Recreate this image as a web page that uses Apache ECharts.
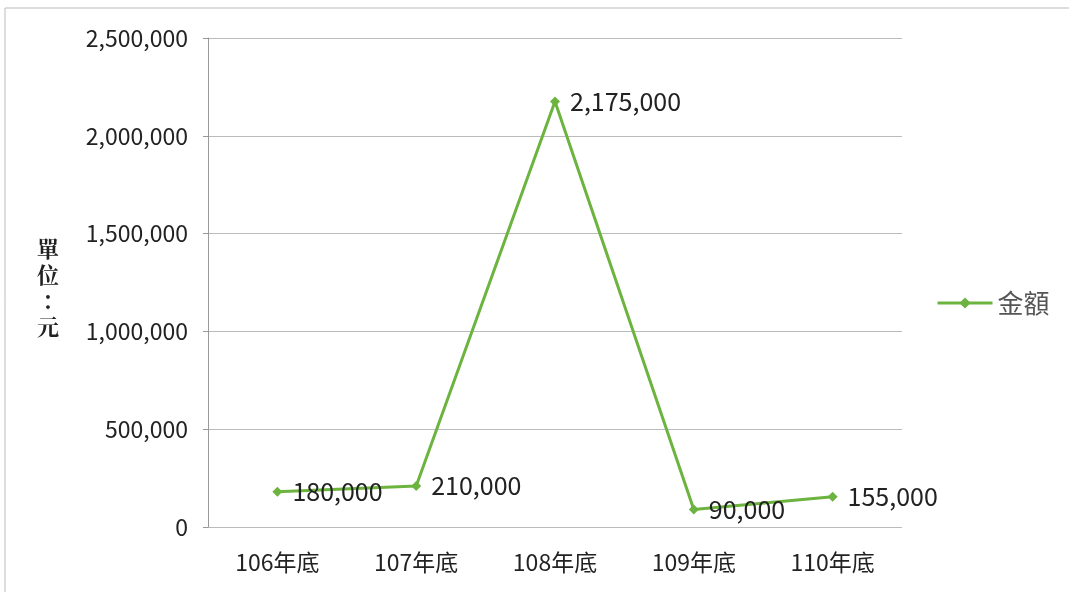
<!DOCTYPE html>
<html><head><meta charset="utf-8">
<script src="https://cdn.jsdelivr.net/npm/echarts@6/dist/echarts.min.js"></script>
<style>html,body{margin:0;padding:0;background:#fff}#c{width:1069px;height:592px}</style>
</head><body><div id="c"></div>
<script>
const categories = ['106年底','107年底','108年底','109年底','110年底'];
const amounts = [180000, 210000, 2175000, 90000, 155000];
const seriesName = '金額';
const yTicks = {min:0, max:2500000, interval:500000};

const chart = echarts.init(document.getElementById('c'));
const fmt = v => v.toLocaleString('en-US');
chart.setOption({
  animation:false,
  backgroundColor:'#fff',
  textStyle:{fontFamily:'"Noto Sans CJK TC", "Noto Sans", sans-serif'},
  graphic:[
    {type:'rect', shape:{x:5,y:8,width:1070,height:600}, style:{fill:'none', stroke:'#bbb', lineWidth:1}},
    {type:'text', left:37, top:236, style:{text:'單\n位\n：\n元', font:'bold 22px "Noto Serif CJK TC", "Noto Sans CJK TC", serif', fill:'#222', lineHeight:26}}
  ],
  grid:{left:208, right:167, top:38, bottom:65},
  legend:{data:[seriesName], left:931, top:285, itemWidth:55, itemHeight:14, itemGap:5,
    lineStyle:{width:3}, textStyle:{fontSize:26, color:'#555'}},
  xAxis:{type:'category', data:categories, boundaryGap:true,
    axisLine:{show:false}, axisTick:{show:false},
    axisLabel:{fontSize:23, color:'#222', margin:24}},
  yAxis:{type:'value', min:yTicks.min, max:yTicks.max, interval:yTicks.interval,
    axisLine:{show:true, lineStyle:{color:'#999'}}, axisTick:{show:true, length:5, lineStyle:{color:'#999'}},
    splitLine:{lineStyle:{color:'#bbb'}},
    axisLabel:{fontSize:23, color:'#222', margin:20, formatter:v=>fmt(v)}},
  series:[{name:seriesName, type:'line', data:amounts, symbol:'diamond', symbolSize:10,
    lineStyle:{color:'#6cb33f', width:3}, itemStyle:{color:'#6cb33f'},
    label:{show:true, position:'right', distance:10, fontSize:25, color:'#222', formatter:p=>fmt(p.value)}}]
});
</script></body></html>
